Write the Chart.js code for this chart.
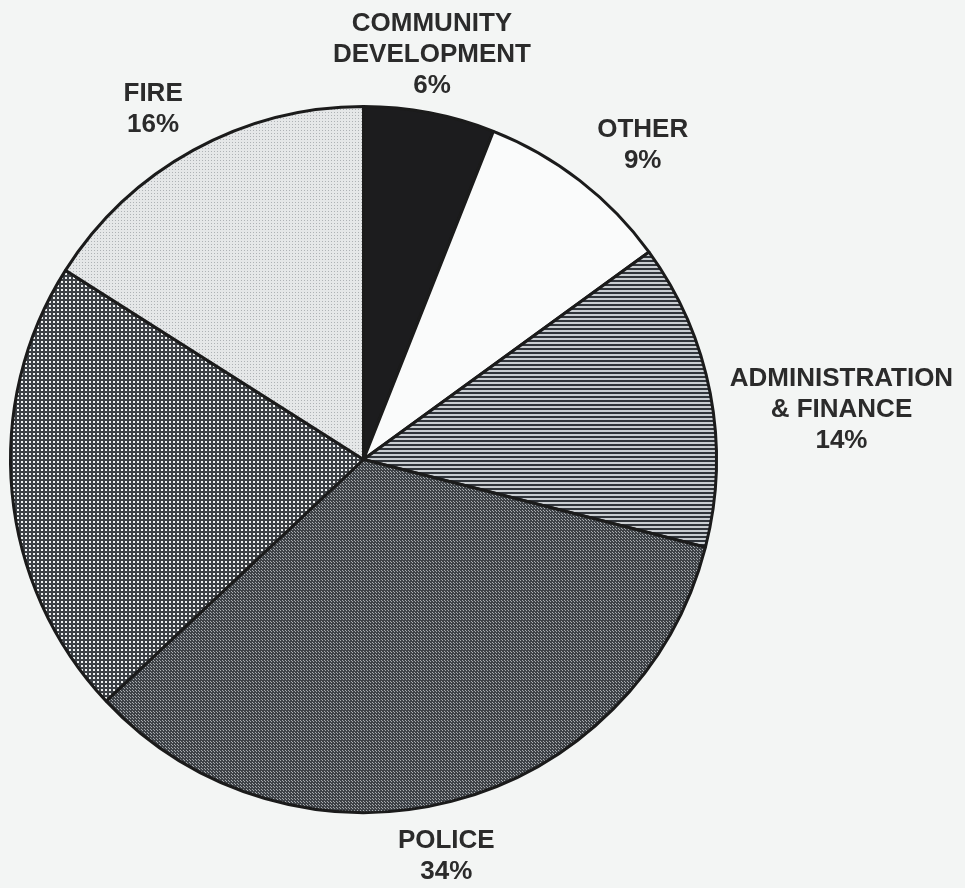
<!DOCTYPE html>
<html>
<head>
<meta charset="utf-8">
<script src="https://cdn.jsdelivr.net/npm/chart.js@4/dist/chart.umd.min.js"></script>
<style>
    html, body { margin: 0; padding: 0; background: #f3f5f4; }
    #pie { display: block; }
</style>
</head>
<body>
<canvas id="pie" width="965" height="888"></canvas>
<script>
// slices go clockwise from 12 o'clock
const categories = [
    ['COMMUNITY', 'DEVELOPMENT'],
    ['OTHER'],
    ['ADMINISTRATION', '& FINANCE'],
    ['POLICE'],
    [],               // left slice carries no label in the picture
    ['FIRE']
];
const shares = [6, 9, 14, 34, 21, 16];

function makePattern(size, draw) {
    const c = document.createElement('canvas');
    c.width = size;
    c.height = size;
    const g = c.getContext('2d');
    draw(g);
    return g.createPattern(c, 'repeat');
}

const hLines = makePattern(4, g => {
    g.fillStyle = '#c9cdd1';
    g.fillRect(0, 0, 4, 4);
    g.fillStyle = '#30343a';
    g.fillRect(0, 0, 4, 2);
});

const darkDots = makePattern(3, g => {
    g.fillStyle = '#3e4247';
    g.fillRect(0, 0, 3, 3);
    g.fillStyle = '#a6aaae';
    g.fillRect(0, 0, 1, 1);
    g.fillRect(1, 1, 1, 1);
});

const grid = makePattern(4, g => {
    g.fillStyle = '#3c4045';
    g.fillRect(0, 0, 4, 4);
    g.fillStyle = '#eef0f0';
    g.fillRect(1, 1, 2, 2);
});

const lightDots = makePattern(3, g => {
    g.fillStyle = '#e5e7e8';
    g.fillRect(0, 0, 3, 3);
    g.fillStyle = '#aeb2b5';
    g.fillRect(1, 1, 1, 1);
});

const fills = ['#1c1c1e', '#fafbfb', hLines, darkDots, grid, lightDots];

// outside labels: pushed out along the slice middle until the block clears the rim
const outsideLabels = {
    id: 'outsideLabels',
    afterDatasetsDraw(chart, args, opts) {
        const ctx = chart.ctx;
        const arcs = chart.getDatasetMeta(0).data;
        ctx.save();
        ctx.font = opts.font;
        ctx.fillStyle = opts.color;
        ctx.textAlign = 'center';
        ctx.textBaseline = 'middle';
        arcs.forEach((arc, i) => {
            if (!categories[i].length) return;
            const lines = categories[i].concat([shares[i] + '%']);
            const w = Math.max(...lines.map(t => ctx.measureText(t).width));
            const h = (lines.length - 1) * opts.lineHeight + opts.capHeight;
            const { x, y, startAngle, endAngle, outerRadius } = arc.getProps(['x', 'y', 'startAngle', 'endAngle', 'outerRadius'], true);
            const a = (startAngle + endAngle) / 2 + (opts.nudge[i] || 0) * Math.PI / 180;
            const need = outerRadius + (opts.gap[i] !== undefined ? opts.gap[i] : opts.gapDefault);
            let d = outerRadius, cx, cy;
            for (; d < outerRadius + 400; d += 0.5) {
                cx = x + d * Math.cos(a);
                cy = y + d * Math.sin(a);
                const nx = Math.max(cx - w / 2, Math.min(x, cx + w / 2));
                const ny = Math.max(cy - h / 2, Math.min(y, cy + h / 2));
                if (Math.hypot(nx - x, ny - y) >= need) break;
            }
            const top = cy - h / 2 + opts.capHeight / 2;
            lines.forEach((t, k) => ctx.fillText(t, cx, top + k * opts.lineHeight));
        });
        ctx.restore();
    }
};

new Chart(document.getElementById('pie'), {
    type: 'pie',
    data: {
        labels: categories.map(c => c.join(' ')),
        datasets: [{
            data: shares,
            backgroundColor: fills,
            borderColor: '#1b1b1b',
            borderWidth: 3,
            hoverOffset: 0
        }]
    },
    options: {
        responsive: false,
        animation: false,
        radius: 353,
        layout: { padding: { left: 9, right: 247, top: 106, bottom: 75 } },
        plugins: {
            legend: { display: false },
            tooltip: { enabled: false },
            outsideLabels: {
                font: 'bold 26px "Liberation Sans", Arial, sans-serif',
                color: '#2b2b2b',
                lineHeight: 31,
                capHeight: 19,
                gapDefault: 19,
                gap: { 0: 11, 2: 13, 3: 20 },
                nudge: { 0: -1.2, 1: 3.8, 2: 4.9, 3: 2.6, 5: -2.2 }
            }
        }
    },
    plugins: [outsideLabels]
});
</script>
</body>
</html>
